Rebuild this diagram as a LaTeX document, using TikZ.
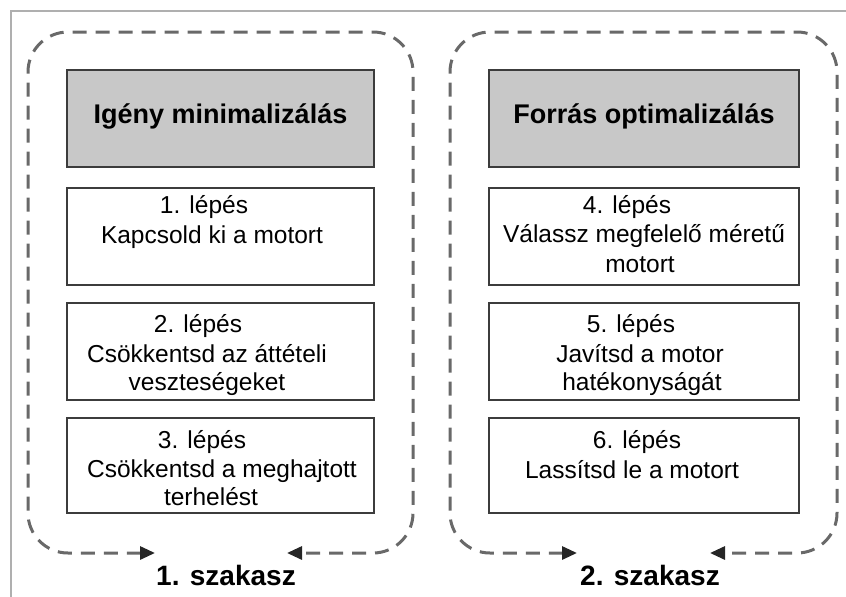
\documentclass[tikz,border=0pt]{standalone}
\usepackage{fontspec}
\setmainfont{Liberation Sans}
\usetikzlibrary{arrows.meta}
\definecolor{hdrgray}{RGB}{200,200,200}
\definecolor{boxline}{RGB}{60,60,60}
\definecolor{dashgray}{RGB}{105,105,105}
\definecolor{framegray}{RGB}{175,175,175}
\tikzset{
  hdrbox/.style={draw=boxline, line width=2pt, fill=hdrgray, rectangle, inner sep=0pt},
  stepbox/.style={draw=boxline, line width=2pt, fill=white, rectangle, inner sep=0pt},
  hdrtext/.style={anchor=base, inner sep=0pt, font=\fontsize{27}{32}\selectfont\bfseries},
  steptext/.style={anchor=base, inner sep=0pt, font=\fontsize{24.5}{29.5}\selectfont},
  phasetext/.style={anchor=base, inner sep=0pt, font=\fontsize{28}{33}\selectfont\bfseries},
  phase/.style={draw=dashgray, line width=3pt, dash pattern=on 14pt off 9pt, rounded corners=40pt,
    {Triangle[length=15pt,width=13pt,color=black!85]}-{Triangle[length=15pt,width=13pt,color=black!85]}},
}
\begin{document}
\begin{tikzpicture}[x=1pt,y=-1pt]
\useasboundingbox (0,0) rectangle (846,597);
% outer frame (top and left edges)
\draw[framegray, line width=1.5pt] (11,597) -- (11,11) -- (846,11);

% ---------- left column ----------
\node[hdrbox, minimum width=307pt, minimum height=97pt] (h1) at (220.5,118.5) {};
\node[hdrtext] (h1t) at (220.5,123) {Igény minimalizálás};

\node[stepbox, minimum width=307pt, minimum height=97pt] (b1) at (220.5,236.5) {};
\node[steptext] (b1a) at (204,213) {1. lépés};
\node[steptext] (b1b) at (212,243) {Kapcsold ki a motort};

\node[stepbox, minimum width=307pt, minimum height=97pt] (b2) at (220.5,351.5) {};
\node[steptext] (b2a) at (198,332) {2. lépés};
\node[steptext] (b2b) at (207,362) {Csökkentsd az áttételi};
\node[steptext] (b2c) at (207,390) {veszteségeket};

\node[stepbox, minimum width=307pt, minimum height=95pt] (b3) at (220.5,465.5) {};
\node[steptext] (b3a) at (202,448) {3. lépés};
\node[steptext] (b3b) at (222,477) {Csökkentsd a meghajtott};
\node[steptext] (b3c) at (211,505) {terhelést};

\coordinate (p1s) at (155,553);
\coordinate (p1e) at (287,553);
\draw[phase] (p1s) -- (28,553) -- (28,32) -- (413,32) -- (413,553) -- (p1e);
\node[phasetext] (p1) at (226,585) {1. szakasz};

% ---------- right column ----------
\node[hdrbox, minimum width=310pt, minimum height=97pt] (h2) at (644,118.5) {};
\node[hdrtext] (h2t) at (644,123) {Forrás optimalizálás};

\node[stepbox, minimum width=310pt, minimum height=97pt] (b4) at (644,236.5) {};
\node[steptext] (b4a) at (627,213) {4. lépés};
\node[steptext] (b4b) at (644,242) {Válassz megfelelő méretű};
\node[steptext] (b4c) at (640,272) {motort};

\node[stepbox, minimum width=310pt, minimum height=97pt] (b5) at (644,351.5) {};
\node[steptext] (b5a) at (631,332) {5. lépés};
\node[steptext] (b5b) at (640,362) {Javítsd a motor};
\node[steptext] (b5c) at (642,390) {hatékonyságát};

\node[stepbox, minimum width=310pt, minimum height=95pt] (b6) at (644,465.5) {};
\node[steptext] (b6a) at (637,448) {6. lépés};
\node[steptext] (b6b) at (632,478) {Lassítsd le a motort};

\coordinate (p2s) at (577,553);
\coordinate (p2e) at (710,553);
\draw[phase] (p2s) -- (450,553) -- (450,32) -- (837,32) -- (837,553) -- (p2e);
\node[phasetext] (p2) at (650,585) {2. szakasz};
\end{tikzpicture}
\end{document}
